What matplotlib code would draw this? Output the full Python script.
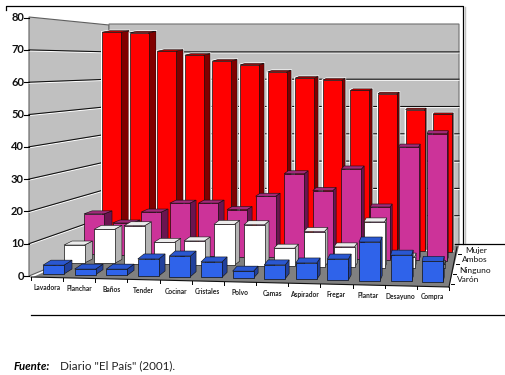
import matplotlib
matplotlib.use('Agg')
import matplotlib.pyplot as plt
from matplotlib.patches import Polygon

plt.rcParams['font.family'] = ['Lato', 'DejaVu Sans']

categorias = ['Lavadora', 'Planchar', 'Baños', 'Tender', 'Cocinar', 'Cristales', 'Polvo',
              'Camas', 'Aspirador', 'Fregar', 'Plantar', 'Desayuno', 'Compra']
series = ['Varón', 'Ninguno', 'Ambos', 'Mujer']
varon = [2.7, 1.7, 1.9, 5.2, 6.3, 4.7, 2.1, 4.2, 5.0, 6.4, 11.8, 8.0, 6.3]
ninguno = [5.8, 11.0, 12.3, 7.1, 7.7, 13.2, 13.2, 5.8, 11.3, 6.5, 14.7, 3.5, 1.3]
ambos = [13.6, 10.7, 14.6, 17.8, 18.0, 16.0, 20.7, 28.5, 23.0, 30.5, 17.8, 38.3, 43.0]
mujer = [76, 76, 69.6, 68.4, 66.5, 65.3, 63, 61, 60.5, 57, 56, 50.5, 49]
yticks = [0, 10, 20, 30, 40, 50, 60, 70, 80]

# geometria de cada fila (de adelante hacia atras), en pixeles
x_ini = [43, 64, 84, 102]
x_paso = [31.6, 30.0, 28.6, 27.6]
ancho = [21, 20.5, 20, 19]
y_base = [274, 263, 254, 245]
y_pend = [0.67, 0.45, 0.55, 0.55]
escala = [3.28, 3.1, 2.95, 2.8]
prof_y = [5, 4, 3, 1.5]
colores = [('#2f63ea', '#21409c', '#2a57d0'),
           ('#ffffff', '#b4b4b4', '#ececec'),
           ('#cc3399', '#6b1450', '#a3297a'),
           ('#ff0000', '#800000', '#c00000')]


def barra(ax, i, fila, valor):
    # dibuja cara frontal, lateral y superior de una barra
    x0 = x_ini[fila] + x_paso[fila] * i
    x1 = x0 + ancho[fila]
    y0 = y_base[fila] + y_pend[fila] * i
    y1 = y0 - valor * escala[fila]
    dx = 8 - 7 * i / 12
    dy = prof_y[fila]
    frente, lado, tapa = colores[fila]
    borde = '#101010'
    z = 5 - fila
    if fila == 3:
        # halo blanco alrededor de las barras rojas
        ax.add_patch(Polygon([(x0 - 1, y0), (x0 - 1, y1 - 1), (x0 + dx, y1 - dy - 1), (x1 + dx + 1, y1 - dy - 1),
                              (x1 + dx + 1, y0)], fc='white', ec='none', zorder=z))
    ax.add_patch(Polygon([(x1, y0), (x1, y1), (x1 + dx, y1 - dy), (x1 + dx, y0 - dy)],
                         fc=lado, ec=borde, lw=0.4, zorder=z))
    ax.add_patch(Polygon([(x0, y1), (x1, y1), (x1 + dx, y1 - dy), (x0 + dx, y1 - dy)],
                         fc=tapa, ec=borde, lw=0.4, zorder=z))
    ax.add_patch(Polygon([(x0, y0), (x1, y0), (x1, y1), (x0, y1)],
                         fc=frente, ec=borde, lw=0.5, zorder=z))


fig = plt.figure(figsize=(5.05, 3.75), dpi=100)
ax = fig.add_axes([0, 0, 1, 1])
ax.set_xlim(0, 505)
ax.set_ylim(375, 0)
ax.axis('off')

# paredes y piso
ax.add_patch(Polygon([(29, 17), (109, 25), (109, 243), (29, 276)], fc='#c0c0c0', ec='#606060', lw=0.8, zorder=0))
ax.add_patch(Polygon([(109, 24), (459, 24), (459, 245), (109, 243)], fc='#c0c0c0', ec='#707070', lw=0.8, zorder=0))
ax.add_patch(Polygon([(33, 277), (109, 243), (459, 246), (449, 287)], fc='#808080', ec='none', zorder=1))

# grilla y marcas del eje y
for v in yticks:
    y_f = 276 - v * 3.23
    y_b = 243 - v * 2.73
    if 0 < v < 80:
        ax.plot([29, 109, 459], [y_f + 1, y_b + 1, y_b + 1], color='white', lw=0.8, zorder=0.5)
        ax.plot([29, 109, 459], [y_f, y_b, y_b], color='#101010', lw=0.8, zorder=0.6)
    ax.plot([24, 29], [y_f, y_f], color='black', lw=0.8)
    ax.text(24, y_f, str(v), ha='right', va='center', fontsize=8, fontweight='bold', color='#111111')

# barras, de atras hacia adelante
valores = [varon, ninguno, ambos, mujer]
for fila in [3, 2, 1, 0]:
    for i, v in enumerate(valores[fila]):
        barra(ax, i, fila, v)

# eje x
ax.plot([31, 449], [277, 287], color='#101010', lw=0.8, zorder=6)
for i in range(len(categorias) + 1):
    x = 31 + 32.15 * i
    y = 277 + 0.77 * i
    ax.plot([x, x], [y, y + 3], color='black', lw=0.7, zorder=6)
for i, c in enumerate(categorias):
    x = 47 + 32.15 * i
    y = 288 + 0.75 * i
    ax.text(x, y, c, ha='center', va='center', fontsize=4.8, fontweight='bold', color='#222222')

# eje de profundidad
ax.plot([449, 457], [287, 247], color='#101010', lw=0.8, zorder=6)
for k, s in enumerate(series):
    x = 450.5 + k * 2.5
    y = 280 - k * 10
    ax.plot([x, x + 3], [y + 4, y + 4], color='black', lw=0.7, zorder=6)
    ax.text(457 + k * 2.7, y, s, ha='left', va='center', fontsize=6, color='#111111')

# marcos
ax.plot([6, 6, 463, 463], [10, 6, 6, 244], color='black', lw=0.9)
ax.plot([464.5, 464.5], [7, 244], color='#c0c0c0', lw=1)
ax.plot([455, 505], [244, 244], color='black', lw=0.9)
ax.plot([31, 505], [315, 315], color='black', lw=0.9)

# fuente
ax.text(14, 366, 'Fuente:', fontsize=8.2, fontweight='bold', fontstyle='italic', va='center')
ax.text(60, 366, 'Diario "El País" (2001).', fontsize=8.4, va='center', color='#222222')

fig.savefig('out.png', dpi=100)
